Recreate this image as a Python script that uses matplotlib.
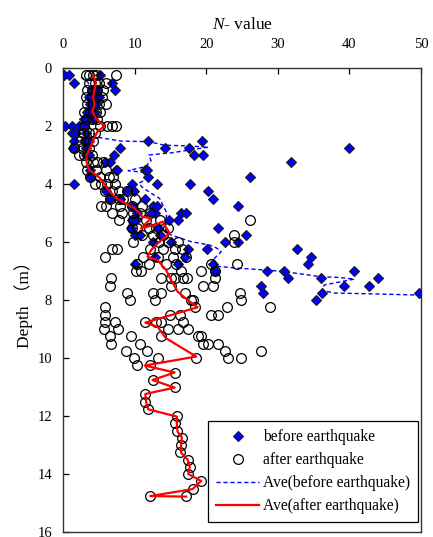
import matplotlib
matplotlib.use("Agg")
import matplotlib.pyplot as plt
from matplotlib.lines import Line2D

plt.rcParams['font.family'] = ['Liberation Serif', 'Noto Sans CJK JP']
plt.rcParams['mathtext.fontset'] = 'custom'
plt.rcParams['mathtext.it'] = 'Liberation Serif:italic'
plt.rcParams['mathtext.rm'] = 'Liberation Serif'

# ---------------- data ----------------
before_depth = [
    0.25, 0.25, 0.25,
    0.5, 0.5,
    0.75, 0.75, 0.75,
    1.0, 1.0, 1.0,
    1.25, 1.25, 1.25,
    1.5, 1.5, 1.5,
    1.75, 1.75, 1.75,
    2.0, 2.0, 2.0, 2.0,
    2.25, 2.25, 2.25,
    2.5, 2.5, 2.5, 2.5, 2.5,
    2.75, 2.75, 2.75, 2.75, 2.75, 2.75,
    3.0, 3.0, 3.0, 3.0, 3.0,
    3.25, 3.25, 3.25,
    3.5, 3.5, 3.5, 3.5, 3.5,
    3.75, 3.75, 3.75,
    4.0, 4.0, 4.0, 4.0,
    4.25, 4.25, 4.25, 4.25,
    4.5, 4.5, 4.5, 4.5,
    4.75, 4.75, 4.75, 4.75,
    5.0, 5.0, 5.0, 5.0, 5.0,
    5.25, 5.25, 5.25, 5.25,
    5.5, 5.5, 5.5,
    5.75, 5.75, 5.75, 5.75,
    6.0, 6.0, 6.0, 6.0,
    6.25, 6.25, 6.25,
    6.5, 6.5, 6.5,
    6.75, 6.75, 6.75, 6.75,
    7.0, 7.0, 7.0, 7.0,
    7.25, 7.25, 7.25,
    7.5, 7.5, 7.5,
    7.75, 7.75, 7.75,
    8.0,
]
before_N = [
    0.2, 0.9, 5.2,
    1.6, 6.9,
    7.3, 4.0, 4.8,
    4.2, 5.0, 3.6,
    4.0, 4.6, 3.8,
    3.4, 4.4, 4.0,
    3.0, 3.6, 4.2,
    0.3, 1.2, 2.2, 3.0,
    1.2, 1.8, 3.2,
    1.6, 3.0, 3.6, 11.9, 19.4,
    1.4, 3.2, 7.9, 14.2, 17.6, 40.0,
    3.2, 3.6, 7.1, 18.3, 19.6,
    5.8, 6.5, 31.8,
    3.8, 7.4, 7.6, 11.4, 11.8,
    3.8, 11.9, 26.1,
    1.6, 9.7, 13.1, 17.8,
    6.0, 9.0, 9.9, 20.3,
    6.5, 7.9, 11.4, 21.0,
    9.7, 12.5, 13.1, 24.5,
    10.4, 12.3, 12.8, 16.5, 17.2,
    9.6, 10.2, 14.8, 16.0,
    9.5, 13.2, 21.7,
    10.0, 10.7, 13.5, 25.5,
    12.5, 15.1, 22.6, 24.4,
    17.4, 20.1, 32.7,
    12.9, 17.0, 34.7,
    10.0, 16.1, 20.9, 34.2,
    21.2, 28.5, 30.9, 40.6,
    31.4, 36.1, 44.0,
    27.7, 39.3, 42.8,
    28.0, 36.2, 49.7,
    35.4,
]

after_depth = [
    0.25, 0.25, 0.25, 0.25, 0.25,
    0.5, 0.5, 0.5, 0.5,
    0.75, 0.75, 0.75, 0.75,
    1.0, 1.0, 1.0, 1.0,
    1.25, 1.25, 1.25, 1.25,
    1.5, 1.5, 1.5, 1.5,
    1.75, 1.75, 1.75,
    2.0, 2.0, 2.0, 2.0, 2.0,
    2.25, 2.25, 2.25,
    2.5, 2.5, 2.5,
    2.75, 2.75, 2.75,
    3.0, 3.0, 3.0,
    3.25, 3.25, 3.25, 3.25,
    3.5, 3.5, 3.5,
    3.75, 3.75, 3.75, 3.75,
    4.0, 4.0, 4.0, 4.0,
    4.25, 4.25, 4.25, 4.25,
    4.5, 4.5, 4.5, 4.5,
    4.75, 4.75, 4.75, 4.75, 4.75,
    5.0, 5.0, 5.0, 5.0, 5.0,
    5.25, 5.25, 5.25, 5.25, 5.25,
    5.5, 5.5, 5.5, 5.5, 5.5,
    5.75, 5.75, 5.75, 5.75,
    6.0, 6.0, 6.0, 6.0, 6.0,
    6.25, 6.25, 6.25, 6.25, 6.25, 6.25,
    6.5, 6.5, 6.5, 6.5, 6.5,
    6.75, 6.75, 6.75, 6.75, 6.75, 6.75,
    7.0, 7.0, 7.0, 7.0, 7.0,
    7.25, 7.25, 7.25, 7.25, 7.25, 7.25, 7.25,
    7.5, 7.5, 7.5, 7.5,
    7.75, 7.75, 7.75, 7.75, 7.75,
    8.0, 8.0, 8.0, 8.0, 8.0,
    8.25, 8.25, 8.25, 8.25,
    8.5, 8.5, 8.5, 8.5, 8.5,
    8.75, 8.75, 8.75, 8.75, 8.75, 8.75,
    9.0, 9.0, 9.0, 9.0, 9.0,
    9.25, 9.25, 9.25, 9.25, 9.25,
    9.5, 9.5, 9.5, 9.5, 9.5,
    9.75, 9.75, 9.75, 9.75,
    10.0, 10.0, 10.0, 10.0, 10.0,
    10.25, 10.25,
    10.5, 10.75, 11.0, 11.25, 11.5, 11.75,
    12.0, 12.25, 12.5, 12.75, 13.0, 13.25,
    13.5, 13.75, 14.0, 14.25, 14.5,
    14.75, 14.75,
]
after_N = [
    3.2, 3.7, 4.2, 4.6, 7.4,
    3.6, 4.4, 5.0, 6.0,
    3.4, 4.0, 4.8, 5.6,
    3.2, 4.0, 4.6, 5.4,
    3.4, 4.2, 5.0, 6.0,
    3.0, 3.8, 4.6, 5.2,
    3.2, 4.0, 4.8,
    3.0, 5.1, 6.2, 6.9, 7.4,
    2.8, 3.6, 4.4,
    2.4, 3.4, 4.2,
    1.6, 2.6, 3.6,
    2.2, 3.0, 4.0,
    3.2, 4.2, 4.8, 5.6,
    3.4, 4.6, 6.0,
    3.8, 5.2, 6.4, 7.0,
    4.4, 5.3, 6.2, 7.2,
    5.8, 6.8, 7.8, 9.0,
    6.6, 7.8, 8.4, 10.0,
    5.3, 6.0, 8.0, 9.6, 11.0,
    6.9, 8.3, 9.8, 10.8, 12.2,
    7.8, 9.8, 11.6, 13.5, 26.1,
    9.6, 10.4, 12.0, 13.0, 14.6,
    11.0, 12.6, 14.0, 23.9,
    9.8, 13.4, 14.6, 16.0, 23.9,
    6.9, 7.6, 12.2, 14.0, 15.6, 16.6,
    5.8, 11.2, 13.2, 15.4, 17.2,
    10.3, 12.0, 14.4, 15.8, 20.7, 24.3,
    10.2, 10.9, 16.5, 19.3, 21.2,
    6.7, 13.7, 15.1, 15.6, 16.7, 17.3, 21.2,
    6.5, 15.1, 19.5, 20.9,
    9.0, 12.5, 13.7, 17.0, 24.7,
    9.3, 12.8, 17.9, 18.1, 24.9,
    5.8, 18.4, 22.9, 28.9,
    5.9, 15.0, 16.3, 20.7, 21.6,
    5.8, 7.2, 11.5, 13.0, 13.7, 16.7,
    5.7, 7.7, 14.7, 16.0, 17.4,
    6.5, 9.5, 13.7, 18.8, 19.3,
    6.7, 10.7, 19.5, 20.2, 21.6,
    8.8, 11.8, 22.6, 27.6,
    9.9, 13.2, 18.6, 23.0, 24.9,
    10.3, 12.2,
    15.6, 12.5, 15.6, 11.5, 11.5, 11.9,
    15.9, 15.7, 15.9, 16.6, 16.5, 16.3,
    17.4, 17.7, 17.4, 19.3, 18.1,
    12.2, 17.2,
]

ave_before_N = [2.5, 3.5, 4.0, 4.2, 3.8, 3.6, 4.6, 8.1, 12.0, 14.1, 17.6, 20.3,
                17.6, 15.3, 12.0, 12.3, 11.5, 9.1, 11.3, 12.3, 10.6, 11.0,
                12.2, 13.5, 14.0, 14.5, 14.3, 14.4, 17.9, 20.4, 21.4, 22.1,
                21.0, 21.2, 23.8, 28.5, 30.9, 36.1, 38.4, 40.7, 36.5, 36.1,
                37.9, 43.5, 49.7]
ave_before_depth = [0.3, 0.5, 0.8, 1.2, 1.6, 2.0, 2.38, 2.52, 2.54, 2.66, 2.69, 2.73,
                    2.83, 2.92, 3.0, 3.2, 3.4, 3.54, 3.6, 3.76, 3.97, 4.1,
                    4.3, 4.5, 4.75, 5.0, 5.4, 5.7, 5.99, 6.1, 6.2, 6.33,
                    6.6, 6.83, 6.89, 6.97, 7.02, 7.2, 7.22, 7.28, 7.48, 7.66,
                    7.76, 7.79, 7.83]

ave_after_N = [4.2, 4.6, 4.4, 4.2, 4.4, 4.1, 4.6, 5.8, 4.8, 4.2, 3.8, 3.3, 3.3,
               3.6, 5.2, 6.2, 7.4, 10.0, 11.1, 12.3, 10.9, 12.8, 13.9, 14.9,
               13.2, 12.3, 11.8, 13.2, 14.4, 15.1, 16.0, 17.4, 18.8, 11.5,
               13.2, 14.4, 18.6, 11.4, 15.6, 12.5, 15.6, 11.5, 11.6, 11.9,
               15.9, 15.9, 16.0, 16.6, 16.5, 16.5, 17.4, 17.7, 17.5, 19.3,
               18.1, 12.2, 17.2]
ave_after_depth = [0.25, 0.5, 0.75, 1.0, 1.25, 1.5, 1.75, 2.0, 2.2, 2.5, 2.75, 3.0, 3.25,
                   3.5, 3.8, 4.15, 4.49, 4.84, 5.13, 5.18, 5.53, 5.41, 5.3, 5.7,
                   6.05, 6.28, 6.51, 6.62, 6.97, 7.31, 7.71, 8.0, 8.25, 8.78,
                   8.92, 9.32, 9.95, 10.26, 10.5, 10.76, 11.02, 11.24, 11.5, 11.77,
                   12.02, 12.28, 12.54, 12.73, 13.0, 13.27, 13.5, 13.75, 14.0, 14.24,
                   14.52, 14.76, 14.78]

x_ticks = [0, 10, 20, 30, 40, 50]
y_ticks = [0, 2, 4, 6, 8, 10, 12, 14, 16]
legend_labels = ["before earthquake", "after earthquake",
                 "Ave(before earthquake)", "Ave(after earthquake)"]

# ---------------- plot ----------------
W, H = 433, 537
fig = plt.figure(figsize=(W / 100, H / 100), dpi=100)
L, R, T, B = 63, 421, 68, 532
ax = fig.add_axes([L / W, 1 - B / H, (R - L) / W, (B - T) / H])

blue = '#0000FF'
ax.plot(ave_before_N, ave_before_depth, color=blue, lw=1.0,
        linestyle=(0, (3, 2)), zorder=2)
ax.plot(before_N, before_depth, linestyle='none', marker='D', ms=5.2,
        mfc=blue, mec='#1a1a1a', mew=0.8, zorder=3)
ax.plot(after_N, after_depth, linestyle='none', marker='o', ms=7.0,
        mfc='none', mec='black', mew=0.9, zorder=4)
ax.plot(ave_after_N, ave_after_depth, color='#FF0000', lw=1.6, zorder=5)

ax.set_xlim(0, 50)
ax.set_ylim(16, 0)
ax.set_xticks(x_ticks)
ax.set_yticks(y_ticks)
ax.xaxis.tick_top()
ax.xaxis.set_label_position('top')
ax.tick_params(axis='x', direction='in', length=4, width=0.9, pad=12,
               labelsize=10.5, top=True, bottom=False)
ax.tick_params(axis='y', direction='in', length=4, width=0.9, pad=8,
               labelsize=10.5, left=True, right=False)
for s in ax.spines.values():
    s.set_linewidth(1.0)
    s.set_color('#333333')

ax.set_xlabel(r'$\it{N}$- value', fontsize=12.5, labelpad=7)
ax.set_ylabel('Depth （m）', fontsize=12.5, labelpad=3)

handles = [
    Line2D([], [], linestyle='none', marker='D', ms=5.2, mfc=blue, mec='#1a1a1a', mew=0.8),
    Line2D([], [], linestyle='none', marker='o', ms=7.0, mfc='none', mec='black', mew=0.9),
    Line2D([], [], color=blue, lw=1.0, linestyle=(0, (3, 2))),
    Line2D([], [], color='#FF0000', lw=1.6),
]
leg = ax.legend(handles, legend_labels, loc='lower right',
                bbox_to_anchor=(0.992, 0.0216), borderaxespad=0,
                fontsize=11.2, frameon=True, fancybox=False, framealpha=1,
                edgecolor='black', handlelength=2.75, handletextpad=0.28,
                labelspacing=0.45, borderpad=0.5)
leg.get_frame().set_linewidth(0.9)

fig.savefig('out.png', dpi=100)
